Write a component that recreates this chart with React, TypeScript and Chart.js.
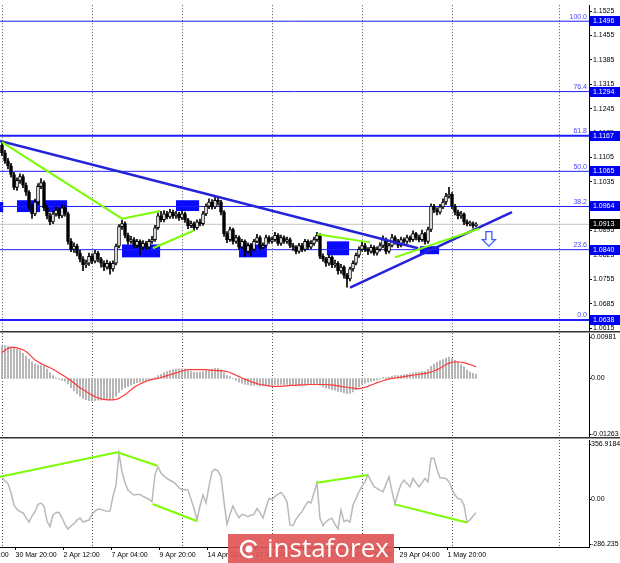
import React, { useEffect, useRef } from "react";
import { Chart, registerables } from "chart.js";
Chart.register(...registerables);

// ---------------- DATA (EURUSD H4, bar index 0 = 30 Mar 04:00) ----------------
const FIRST_OPEN = 1.114;
const closes = [
  1.1118,1.1095,1.1081,1.1056,1.1019,1.1039,1.1050,1.1025,1.1005,1.0963,
  1.0943,1.0977,1.1022,1.1033,1.0960,1.0937,1.0920,1.0943,1.0954,1.0937,
  1.0960,1.0943,1.0864,1.0841,1.0850,1.0830,1.0813,1.0796,1.0801,1.0821,
  1.0807,1.0830,1.0813,1.0801,1.0790,1.0801,1.0785,1.0801,1.0850,1.0906,
  1.0915,1.0881,1.0864,1.0869,1.0852,1.0864,1.0847,1.0858,1.0847,1.0864,
  1.0869,1.0903,1.0937,1.0926,1.0943,1.0934,1.0948,1.0937,1.0943,1.0931,
  1.0943,1.0926,1.0909,1.0915,1.0903,1.0920,1.0915,1.0943,1.0965,1.0977,
  1.0963,1.0982,1.0977,1.0948,1.0886,1.0869,1.0898,1.0864,1.0875,1.0847,
  1.0864,1.0835,1.0852,1.0841,1.0864,1.0875,1.0847,1.0852,1.0875,1.0864,
  1.0869,1.0881,1.0858,1.0875,1.0864,1.0869,1.0852,1.0847,1.0835,1.0852,
  1.0841,1.0864,1.0847,1.0858,1.0869,1.0881,1.0821,1.0813,1.0801,1.0818,
  1.0796,1.0801,1.0779,1.0790,1.0767,1.0756,1.0785,1.0801,1.0824,1.0841,
  1.0852,1.0841,1.0835,1.0847,1.0830,1.0841,1.0852,1.0869,1.0835,1.0852,
  1.0875,1.0864,1.0852,1.0869,1.0864,1.0875,1.0869,1.0886,1.0875,1.0869,
  1.0886,1.0864,1.0898,1.0965,1.0954,1.0948,1.0963,1.0977,1.0994,1.0999,
  1.0965,1.0948,1.0937,1.0943,1.0920,1.0915,1.0915,1.0909,1.0913,
];
const highs = [
  1.1148,1.1125,1.1102,1.1088,1.1062,1.1046,1.1058,1.1056,1.1032,1.1010,
  1.0970,1.0985,1.1030,1.1044,1.1038,1.0968,1.0945,1.0950,1.0962,1.0960,
  1.0968,1.0966,1.0948,1.0872,1.0860,1.0856,1.0838,1.0820,1.0810,1.0830,
  1.0828,1.0838,1.0835,1.0818,1.0808,1.0810,1.0806,1.0808,1.0856,1.0912,
  1.0925,1.0920,1.0888,1.0878,1.0875,1.0870,1.0868,1.0866,1.0864,1.0870,
  1.0878,1.0910,1.0945,1.0950,1.0952,1.0950,1.0956,1.0954,1.0950,1.0948,
  1.0952,1.0948,1.0930,1.0922,1.0920,1.0926,1.0928,1.0950,1.0972,1.0986,
  1.0984,1.0991,1.0988,1.0982,1.0952,1.0892,1.0905,1.0902,1.0882,1.0880,
  1.0870,1.0868,1.0860,1.0858,1.0870,1.0884,1.0880,1.0860,1.0882,1.0880,
  1.0876,1.0890,1.0886,1.0882,1.0880,1.0876,1.0874,1.0858,1.0852,1.0858,
  1.0858,1.0870,1.0868,1.0866,1.0876,1.0890,1.0886,1.0828,1.0818,1.0826,
  1.0822,1.0810,1.0806,1.0798,1.0794,1.0772,1.0790,1.0808,1.0830,1.0848,
  1.0862,1.0858,1.0846,1.0854,1.0852,1.0848,1.0860,1.0880,1.0874,1.0858,
  1.0884,1.0880,1.0870,1.0876,1.0874,1.0882,1.0880,1.0894,1.0890,1.0882,
  1.0896,1.0890,1.0905,1.0972,1.0970,1.0960,1.0970,1.0986,1.1002,1.1019,
  1.1004,1.0970,1.0954,1.0950,1.0946,1.0926,1.0922,1.0920,1.0918,
];
const lows = [
  1.1110,1.1088,1.1072,1.1048,1.1012,1.1010,1.1030,1.1018,1.0996,1.0955,
  1.0930,1.0938,1.0970,1.1015,1.0952,1.0928,1.0912,1.0915,1.0936,1.0930,
  1.0932,1.0936,1.0856,1.0834,1.0832,1.0822,1.0805,1.0780,1.0788,1.0795,
  1.0800,1.0802,1.0805,1.0790,1.0780,1.0784,1.0770,1.0778,1.0796,1.0845,
  1.0898,1.0874,1.0856,1.0858,1.0845,1.0846,1.0825,1.0840,1.0840,1.0842,
  1.0858,1.0864,1.0898,1.0920,1.0920,1.0928,1.0930,1.0930,1.0930,1.0924,
  1.0926,1.0918,1.0900,1.0903,1.0895,1.0898,1.0908,1.0910,1.0938,1.0958,
  1.0956,1.0958,1.0968,1.0940,1.0878,1.0860,1.0864,1.0856,1.0858,1.0840,
  1.0842,1.0820,1.0828,1.0822,1.0836,1.0860,1.0840,1.0842,1.0848,1.0858,
  1.0858,1.0864,1.0852,1.0852,1.0858,1.0858,1.0846,1.0838,1.0828,1.0830,
  1.0834,1.0836,1.0840,1.0842,1.0852,1.0864,1.0814,1.0806,1.0792,1.0795,
  1.0788,1.0789,1.0770,1.0772,1.0758,1.0732,1.0750,1.0778,1.0796,1.0818,
  1.0836,1.0834,1.0826,1.0830,1.0824,1.0824,1.0836,1.0846,1.0828,1.0830,
  1.0848,1.0856,1.0846,1.0848,1.0858,1.0858,1.0862,1.0864,1.0868,1.0862,
  1.0864,1.0856,1.0858,1.0892,1.0946,1.0940,1.0942,1.0958,1.0970,1.0988,
  1.0958,1.0940,1.0928,1.0930,1.0912,1.0908,1.0908,1.0902,1.0905,
];
const macdHist = [
  0.0070,0.0071,0.0070,0.0068,0.0065,0.0063,0.0060,0.0054,0.0048,0.0042,
  0.0036,0.0031,0.0029,0.0028,0.0027,0.0020,0.0012,0.0006,0.0002,-0.0002,
  -0.0004,-0.0006,-0.0012,-0.0020,-0.0027,-0.0033,-0.0038,-0.0043,-0.0046,-0.0048,
  -0.0049,-0.0048,-0.0047,-0.0047,-0.0046,-0.0046,-0.0046,-0.0044,-0.0038,-0.0030,
  -0.0024,-0.0020,-0.0017,-0.0014,-0.0011,-0.0009,-0.0008,-0.0006,-0.0005,-0.0003,
  -0.0002,0.0002,0.0006,0.0009,0.0012,0.0015,0.0017,0.0019,0.0020,0.0021,
  0.0021,0.0020,0.0017,0.0015,0.0013,0.0013,0.0014,0.0015,0.0017,0.0019,
  0.0020,0.0022,0.0022,0.0019,0.0012,0.0006,0.0004,-0.0001,-0.0004,-0.0008,
  -0.0010,-0.0013,-0.0014,-0.0015,-0.0015,-0.0014,-0.0016,-0.0016,-0.0015,-0.0015,
  -0.0014,-0.0013,-0.0014,-0.0013,-0.0013,-0.0013,-0.0014,-0.0015,-0.0016,-0.0015,
  -0.0015,-0.0014,-0.0014,-0.0013,-0.0012,-0.0011,-0.0015,-0.0018,-0.0021,-0.0022,
  -0.0024,-0.0025,-0.0028,-0.0029,-0.0031,-0.0033,-0.0032,-0.0029,-0.0024,-0.0018,
  -0.0013,-0.0010,-0.0008,-0.0006,-0.0005,-0.0003,-0.0001,0.0002,0.0002,0.0003,
  0.0005,0.0006,0.0006,0.0007,0.0008,0.0009,0.0010,0.0012,0.0013,0.0013,
  0.0015,0.0015,0.0019,0.0026,0.0031,0.0035,0.0038,0.0041,0.0044,0.0046,
  0.0043,0.0039,0.0034,0.0030,0.0025,0.0018,0.0014,0.0011,0.0009,
];
const macdSignal = [
  0.0056,0.0061,0.0065,0.0067,0.0067,0.0066,0.0064,0.0062,0.0058,0.0053,
  0.0046,0.0040,0.0036,0.0032,0.0029,0.0026,0.0023,0.0020,0.0016,0.0012,
  0.0008,0.0004,0.0000,-0.0005,-0.0010,-0.0015,-0.0020,-0.0024,-0.0028,-0.0032,
  -0.0036,-0.0039,-0.0042,-0.0044,-0.0045,-0.0046,-0.0046,-0.0046,-0.0045,-0.0043,
  -0.0039,-0.0035,-0.0030,-0.0025,-0.0019,-0.0015,-0.0012,-0.0009,-0.0006,-0.0004,
  -0.0002,-0.0001,0.0000,0.0002,0.0004,0.0006,0.0008,0.0010,0.0012,0.0014,
  0.0016,0.0018,0.0019,0.0019,0.0019,0.0019,0.0019,0.0019,0.0019,0.0018,
  0.0018,0.0017,0.0017,0.0017,0.0016,0.0015,0.0013,0.0010,0.0007,0.0004,
  0.0001,-0.0002,-0.0004,-0.0007,-0.0009,-0.0011,-0.0013,-0.0014,-0.0015,-0.0016,
  -0.0017,-0.0017,-0.0017,-0.0017,-0.0016,-0.0016,-0.0015,-0.0015,-0.0015,-0.0014,
  -0.0014,-0.0014,-0.0013,-0.0013,-0.0013,-0.0013,-0.0013,-0.0013,-0.0013,-0.0014,
  -0.0014,-0.0015,-0.0016,-0.0017,-0.0018,-0.0019,-0.0020,-0.0021,-0.0022,-0.0022,
  -0.0021,-0.0019,-0.0017,-0.0014,-0.0012,-0.0009,-0.0007,-0.0005,-0.0003,-0.0001,
  0.0000,0.0001,0.0002,0.0003,0.0004,0.0005,0.0006,0.0007,0.0008,0.0009,
  0.0010,0.0011,0.0012,0.0014,0.0016,0.0019,0.0022,0.0026,0.0030,0.0033,
  0.0035,0.0036,0.0036,0.0035,0.0034,0.0032,0.0030,0.0028,0.0025,
];
const cci = [
  130,110,95,40,-34,-60,-74,-80,-110,-136,
  -100,-74,-30,-22,-40,-130,-164,-94,-80,-78,
  -112,-150,-178,-160,-146,-125,-112,-136,-130,-124,
  -90,-70,-58,-60,-66,-72,-70,20,86,277,
  166,100,56,40,26,30,30,18,10,0,
  -14,150,196,158,140,126,115,106,90,70,
  56,60,56,0,-54,-124,-40,26,-22,80,
  166,181,170,136,-14,-150,-90,-40,-80,-110,
  -90,-95,-104,-95,-90,-54,-80,-112,-50,6,
  -2,18,30,42,20,-14,-154,-158,-120,-95,
  -74,-40,-14,-22,40,100,-114,-158,-135,-120,
  -114,-150,-178,-64,-134,-124,-136,-34,5,46,
  80,106,146,110,76,66,56,46,90,136,
  50,-30,40,90,116,96,76,126,100,76,
  100,126,106,247,247,180,130,128,126,106,
  60,26,5,0,-34,-138,-124,-100,-80,
];

const priceTicks = [1.0615,1.0685,1.0755,1.0825,1.0895,1.0965,1.1035,1.1105,1.1175,1.1245,1.1315,1.1385,1.1455,1.1525];
const fibLevels = [1.1496, 1.1294, 1.1167, 1.1065, 1.0964, 1.084, 1.0638];
const fibNames = ["100.0", "76.4", "61.8", "50.0", "38.2", "23.6", "0.0"];
const lastPrice = 1.0913;
const timeTickBars = [-11.5, 4.5, 20.5, 36.5, 52.5, 68.5, 84.5, 100.5, 116.5, 132.5, 148.5];
const timeTickLabels = ["26 Mar 04:00","30 Mar 20:00","2 Apr 12:00","7 Apr 04:00","9 Apr 20:00","14 Apr 12:00","17 Apr 04:00","21 Apr 20:00","24 Apr 12:00","29 Apr 04:00","1 May 20:00"];
const gridBars = [0, 30, 60, 90, 120, 150, 185.67];
const macdLabels: [number, string][] = [[0.00981, "0.00981"], [0, "0.00"], [-0.01263, "-0.01263"]];
const cciLabels: [number, string][] = [[356.9184, "356.9184"], [0, "0.00"], [-286.235, "-286.235"]];

// zones: [fromBar, toBar, lowPrice, highPrice]
const zones = [
  [-5, 0.4, 1.0948, 1.0977],
  [5, 12.7, 1.0948, 1.0982],
  [14.3, 21.7, 1.0948, 1.0982],
  [40, 52.7, 1.0818, 1.0855],
  [58, 65.7, 1.0951, 1.0982],
  [79, 88.3, 1.0818, 1.0855],
  [108.3, 115.7, 1.0824, 1.0864],
  [139.3, 145.7, 1.0827, 1.085],
];
const blueTrends = [
  [[-0.67, 1.1152], [138.7, 1.0844]],
  [[116, 1.0731], [170, 1.0948]],
];
const greenMain = [
  [[0, 1.1149], [40, 1.0929], [52.7, 1.0951]],
  [[50.3, 1.0844], [64, 1.0895]],
  [[105, 1.0884], [122.7, 1.0861]],
  [[131, 1.0818], [159, 1.09]],
];
const greenCci = [
  [[-0.7, 136], [38.4, 283], [51.8, 202]],
  [[50.2, -28], [64.9, -130]],
  [[104.9, 100], [121.9, 147]],
  [[131, -30], [154.9, -139]],
];
const arrow = { bar: 162.3, top: 1.0892, bottom: 1.085 };

// ---------------- STYLE ----------------
const W = 620, H = 563;
const X_MIN = -2 / 3, X_MAX = 195 + 2 / 3;
const AXIS_W = 31;
const FONT = '"Liberation Sans", Arial, sans-serif';
const GREEN = "#7cfc00";
const TREND_BLUE = "#2323d8";
const FIB_BLUE = "#1e1eff";
const fibWidths = [1, 1, 2, 1, 1, 1, 2];

const lineDs = (pts: number[][], color: string, width: number) => ({
  type: "line" as const,
  data: pts.map(([x, y]) => ({ x, y })),
  borderColor: color,
  borderWidth: width,
  pointRadius: 0,
  tension: 0,
  fill: false,
});

const baseOpts = (padding: any) => ({
  responsive: false,
  animation: false as const,
  devicePixelRatio: 1,
  events: [] as any[],
  layout: { padding },
  plugins: { legend: { display: false }, tooltip: { enabled: false } },
});

const hiddenX = { type: "linear" as const, min: X_MIN, max: X_MAX, display: false, offset: false };

const dotGrid = {
  id: "dotGrid",
  beforeDatasetsDraw(chart: any) {
    const { ctx, chartArea: a, scales } = chart;
    ctx.save();
    ctx.strokeStyle = "#555";
    ctx.lineWidth = 1;
    ctx.setLineDash([1, 2]);
    for (const g of gridBars) {
      const px = Math.round(scales.x.getPixelForValue(g)) + 0.5;
      ctx.beginPath();
      ctx.moveTo(px, a.top);
      ctx.lineTo(px, a.bottom);
      ctx.stroke();
    }
    ctx.restore();
  },
};

const separator = {
  id: "separator",
  afterDraw(chart: any) {
    const { ctx, chartArea: a } = chart;
    ctx.save();
    ctx.fillStyle = "#333";
    ctx.fillRect(0, a.bottom, W, 1);
    ctx.fillStyle = "#999";
    ctx.fillRect(0, a.bottom + 1, W, 1);
    ctx.restore();
  },
};

const panelLabels = (labels: [number, string][]) => ({
  id: "panelLabels",
  afterDraw(chart: any) {
    const { ctx, chartArea: a, scales } = chart;
    ctx.save();
    ctx.font = `7px ${FONT}`;
    ctx.fillStyle = "#000";
    ctx.textBaseline = "middle";
    ctx.textAlign = "left";
    for (const [v, t] of labels) {
      let py = scales.y.getPixelForValue(v);
      py = Math.min(Math.max(py, a.top + 4), a.bottom - 3);
      ctx.fillText(t, a.right + 2, py);
      ctx.fillRect(a.right, Math.round(py), 2, 1);
    }
    ctx.restore();
  },
});

const mainDecor = {
  id: "mainDecor",
  beforeDatasetsDraw(chart: any) {
    const { ctx, scales } = chart;
    ctx.save();
    ctx.fillStyle = "#0a0aff";
    for (const [b0, b1, lo, hi] of zones) {
      const x0 = scales.x.getPixelForValue(b0);
      const x1 = scales.x.getPixelForValue(b1);
      const y0 = scales.y.getPixelForValue(hi);
      const y1 = scales.y.getPixelForValue(lo);
      ctx.fillRect(x0, y0, x1 - x0, y1 - y0);
    }
    ctx.restore();
  },
  afterDatasetsDraw(chart: any) {
    const { ctx, scales } = chart;
    const cx = scales.x.getPixelForValue(arrow.bar);
    const top = scales.y.getPixelForValue(arrow.top);
    const bot = scales.y.getPixelForValue(arrow.bottom);
    const headY = bot - (bot - top) * 0.45;
    ctx.save();
    ctx.beginPath();
    ctx.moveTo(cx - 3, top);
    ctx.lineTo(cx + 3, top);
    ctx.lineTo(cx + 3, headY);
    ctx.lineTo(cx + 6.5, headY);
    ctx.lineTo(cx, bot);
    ctx.lineTo(cx - 6.5, headY);
    ctx.lineTo(cx - 3, headY);
    ctx.closePath();
    ctx.fillStyle = "#fff";
    ctx.fill();
    ctx.strokeStyle = "#3a5cff";
    ctx.lineWidth = 1.3;
    ctx.stroke();
    ctx.restore();
  },
  afterDraw(chart: any) {
    const { ctx, chartArea: a, scales } = chart;
    ctx.save();
    ctx.font = `7px ${FONT}`;
    fibLevels.forEach((v, k) => {
      const py = scales.y.getPixelForValue(v);
      ctx.fillStyle = "#4646ff";
      ctx.textAlign = "right";
      ctx.textBaseline = "bottom";
      ctx.fillText(fibNames[k], a.right - 2, py - 1);
    });
    const box = (v: number, bg: string) => {
      const py = Math.round(scales.y.getPixelForValue(v));
      ctx.fillStyle = bg;
      ctx.fillRect(a.right + 1, py - 5, W - a.right - 1, 10);
      ctx.fillStyle = "#fff";
      ctx.textAlign = "left";
      ctx.textBaseline = "middle";
      ctx.fillText(v.toFixed(4), a.right + 4, py + 0.5);
    };
    fibLevels.forEach((v) => box(v, "#0000f0"));
    box(lastPrice, "#000");
    ctx.restore();
  },
};

const watermark = {
  id: "watermark",
  afterDraw(chart: any) {
    const { ctx } = chart;
    ctx.save();
    ctx.fillStyle = "rgba(224, 86, 86, 0.92)";
    ctx.fillRect(228, 534, 166, 29);
    ctx.strokeStyle = "#fff";
    ctx.lineWidth = 2.5;
    ctx.beginPath();
    ctx.arc(249, 549, 8, Math.PI * 0.35, Math.PI * 1.85);
    ctx.stroke();
    ctx.beginPath();
    ctx.arc(249, 549, 3.5, 0, Math.PI * 2);
    ctx.fillStyle = "#fff";
    ctx.fill();
    ctx.font = `26px "Open Sans", ${FONT}`;
    ctx.textAlign = "left";
    ctx.textBaseline = "alphabetic";
    ctx.fillText("instaforex", 267, 557);
    ctx.restore();
  },
};

function mainConfig(): any {
  const opens = closes.map((c, i) => (i === 0 ? FIRST_OPEN : closes[i - 1]));
  return {
    type: "bar",
    data: {
      datasets: [
        ...greenMain.map((p) => lineDs(p, GREEN, 2)),
        ...blueTrends.map((p) => lineDs(p, TREND_BLUE, 2.5)),
        {
          type: "bar",
          data: closes.map((c, i) => ({ x: i, y: [opens[i], c] })),
          backgroundColor: closes.map((c, i) => (c >= opens[i] ? "#ffffff" : "#000000")),
          borderColor: "#000",
          borderWidth: 1,
          borderSkipped: false,
          barThickness: 3,
          grouped: false,
          minBarLength: 1,
        },
        {
          type: "bar",
          data: highs.map((h, i) => ({ x: i, y: [lows[i], h] })),
          backgroundColor: "#000",
          barThickness: 1,
          grouped: false,
        },
        ...fibLevels.map((v, k) => lineDs([[X_MIN, v], [X_MAX, v]], FIB_BLUE, fibWidths[k])),
        lineDs([[X_MIN, lastPrice], [X_MAX, lastPrice]], "#c4c4c4", 1),
      ],
    },
    options: {
      ...baseOpts({ left: 0, right: 0, top: 0, bottom: H - 331 }),
      scales: {
        x: hiddenX,
        y: {
          type: "linear",
          position: "right",
          min: 1.06065,
          max: 1.1542,
          afterBuildTicks: (s: any) => { s.ticks = priceTicks.map((v) => ({ value: v })); },
          afterFit: (s: any) => { s.width = AXIS_W; },
          ticks: { autoSkip: false, font: { family: FONT, size: 7 }, color: "#000", padding: 1, callback: (v: any) => Number(v).toFixed(4) },
          grid: { drawOnChartArea: false, drawTicks: true, tickLength: 3, color: "#000" },
          border: { display: true, color: "#000" },
        },
      },
    },
    plugins: [dotGrid, mainDecor, separator],
  };
}

function macdConfig(): any {
  return {
    type: "bar",
    data: {
      datasets: [
        lineDs(macdSignal.map((v, i) => [i, v]), "#ff3b3b", 1.2),
        {
          type: "bar",
          data: macdHist.map((v, i) => ({ x: i, y: v })),
          backgroundColor: "#a8a8a8",
          barThickness: 1,
          grouped: false,
        },
      ],
    },
    options: {
      ...baseOpts({ left: 0, right: 0, top: 333, bottom: H - 437 }),
      scales: {
        x: hiddenX,
        y: {
          type: "linear",
          position: "right",
          min: -0.01263,
          max: 0.00981,
          afterFit: (s: any) => { s.width = AXIS_W; },
          ticks: { display: false },
          grid: { display: false },
          border: { display: true, color: "#000" },
        },
      },
    },
    plugins: [dotGrid, panelLabels(macdLabels), separator],
  };
}

function cciConfig(): any {
  return {
    type: "line",
    data: {
      datasets: [
        ...greenCci.map((p) => lineDs(p, GREEN, 2)),
        lineDs(cci.map((v, i) => [i, v]), "#b9b9b9", 1.5),
      ],
    },
    options: {
      ...baseOpts({ left: 0, right: 0, top: 440, bottom: 0 }),
      scales: {
        x: {
          type: "linear",
          min: X_MIN,
          max: X_MAX,
          offset: false,
          position: "bottom",
          afterBuildTicks: (s: any) => { s.ticks = timeTickBars.map((v) => ({ value: v })); },
          afterFit: (s: any) => {
            s.height = 16;
            s.paddingLeft = 0;
            s.paddingRight = 0;
          },
          ticks: {
            autoSkip: false,
            maxRotation: 0,
            minRotation: 0,
            align: "start",
            padding: 1,
            color: "#000",
            font: { family: FONT, size: 7 },
            callback: (_v: any, idx: number) => timeTickLabels[idx],
          },
          grid: { drawOnChartArea: false, drawTicks: true, tickLength: 3, color: "#000" },
          border: { display: true, color: "#000" },
        },
        y: {
          type: "linear",
          position: "right",
          min: -286.235,
          max: 356.9184,
          afterFit: (s: any) => { s.width = AXIS_W; },
          ticks: { display: false },
          grid: { display: false },
          border: { display: true, color: "#000" },
        },
      },
    },
    plugins: [dotGrid, panelLabels(cciLabels), watermark],
  };
}

export default function App() {
  const r1 = useRef<HTMLCanvasElement>(null);
  const r2 = useRef<HTMLCanvasElement>(null);
  const r3 = useRef<HTMLCanvasElement>(null);
  useEffect(() => {
    const charts = [
      new Chart(r1.current as HTMLCanvasElement, mainConfig()),
      new Chart(r2.current as HTMLCanvasElement, macdConfig()),
      new Chart(r3.current as HTMLCanvasElement, cciConfig()),
    ];
    return () => charts.forEach((c) => c.destroy());
  }, []);
  const cs: React.CSSProperties = { position: "absolute", left: 0, top: 0 };
  return (
    <div style={{ position: "fixed", left: 0, top: 0, width: W, height: H, background: "#fff", overflow: "hidden" }}>
      <canvas ref={r1} width={W} height={H} style={cs} />
      <canvas ref={r2} width={W} height={H} style={cs} />
      <canvas ref={r3} width={W} height={H} style={cs} />
    </div>
  );
}
